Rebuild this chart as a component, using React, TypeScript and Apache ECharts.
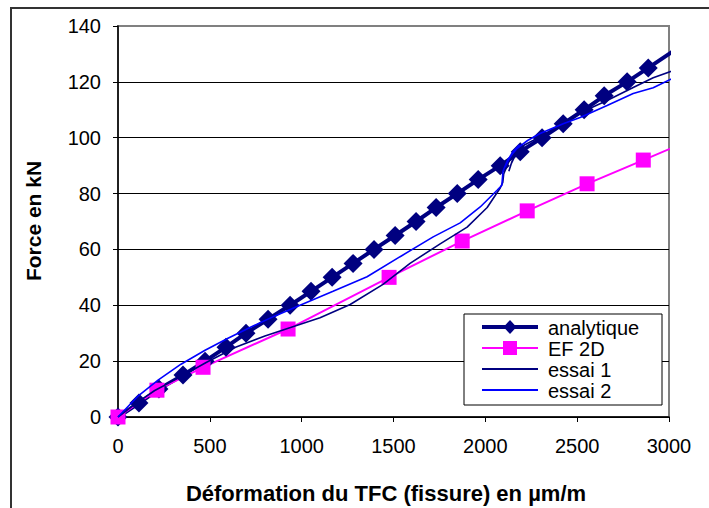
import React, { useEffect, useRef } from "react";
import * as echarts from "echarts";

const xTicks = [0, 500, 1000, 1500, 2000, 2500, 3000];
const yTicks = [0, 20, 40, 60, 80, 100, 120, 140];

const seriesNames = ["analytique", "EF 2D", "essai 1", "essai 2"];

const analytiqueX = [0, 114, 223, 354, 474, 588, 697, 817, 937, 1051, 1166, 1280, 1394, 1509, 1623, 1732, 1847, 1961, 2081, 2190, 2309, 2424, 2538, 2647, 2772, 2887, 3050];
const analytiqueY = [0, 5, 10, 15, 20, 25, 30, 35, 40, 45, 50, 55, 60, 65, 70, 75, 80, 85, 90, 95, 100, 105, 110, 115, 120, 125, 132.2];

const ef2dX = [0, 212, 463, 926, 1476, 1874, 2228, 2554, 2860, 3050];
const ef2dY = [0, 9.6, 17.8, 31.5, 50, 63, 73.8, 83.5, 92, 97.3];

const essai1X = [0, 100, 200, 330, 480, 640, 800, 960, 1100, 1264, 1443, 1590, 1754, 1901, 2010, 2081, 2095, 2100, 2125, 2160, 2185, 2165, 2140, 2128, 2145, 2175, 2215, 2260, 2300, 2424, 2520, 2663, 2805, 2914, 3050];
const essai1Y = [0, 5, 9.5, 14, 19.5, 25, 29, 32.5, 35.5, 40.3, 47.5, 55, 62, 68, 75, 82, 84, 87, 91, 95, 96.5, 94, 90.5, 88, 91.5, 95, 97.5, 99, 100.5, 105, 109, 113.3, 118, 121.5, 124.7];

const essai2X = [0, 109, 218, 343, 474, 599, 724, 855, 991, 1171, 1356, 1536, 1716, 1863, 1972, 2064, 2090, 2096, 2118, 2150, 2185, 2160, 2125, 2108, 2125, 2170, 2230, 2298, 2424, 2516, 2663, 2805, 2914, 3050];
const essai2Y = [0, 7.5, 13.2, 18.9, 23.9, 28.2, 32.2, 36.2, 40, 45, 50.2, 57.4, 64.5, 69.5, 75.2, 81.2, 83, 88, 91.5, 95, 97.5, 95.5, 92, 89.5, 92.5, 96, 99, 101.5, 105, 107.2, 111.5, 115.8, 117.9, 122.2];

const FONT = "'Liberation Sans', Arial, sans-serif";
const NAVY = "#000080";
const MAGENTA = "#FF00FF";
const BLUE = "#0000FF";

function pairs(xs: number[], ys: number[]) {
  return xs.map((x, i) => [x, ys[i]]);
}

export default function App() {
  const ref = useRef<HTMLDivElement>(null);
  useEffect(() => {
    if (!ref.current) return;
    const chart = echarts.init(ref.current, undefined, { renderer: "svg" });
    const anaData = pairs(analytiqueX, analytiqueY).map((p) =>
      p[0] > 3000 ? { value: p, symbol: "none" } : { value: p }
    );
    const efData = pairs(ef2dX, ef2dY).map((p) =>
      p[0] > 3000 ? { value: p, symbol: "none" } : { value: p }
    );

    // legend drawn as graphic
    const lgX = 464, lgY = 314, lgW = 198, lgH = 91;
    const rowY = [327, 348, 369, 390];
    const lineX1 = 482, lineX2 = 538, txtX = 548, midX = 510;
    const legendGraphic: any[] = [
      {
        type: "rect",
        shape: { x: lgX, y: lgY, width: lgW, height: lgH },
        style: { fill: "#fff", stroke: "#000", lineWidth: 1 },
        z: 100,
      },
      { type: "line", shape: { x1: lineX1, y1: rowY[0], x2: lineX2, y2: rowY[0] }, style: { stroke: NAVY, lineWidth: 4 }, z: 101 },
      {
        type: "polygon",
        shape: { points: [[midX, rowY[0] - 7], [midX + 6.5, rowY[0]], [midX, rowY[0] + 7], [midX - 6.5, rowY[0]]] },
        style: { fill: NAVY },
        z: 102,
      },
      { type: "line", shape: { x1: lineX1, y1: rowY[1], x2: lineX2, y2: rowY[1] }, style: { stroke: MAGENTA, lineWidth: 2 }, z: 101 },
      { type: "rect", shape: { x: midX - 7, y: rowY[1] - 7, width: 14, height: 14 }, style: { fill: MAGENTA }, z: 102 },
      { type: "line", shape: { x1: lineX1, y1: rowY[2], x2: lineX2, y2: rowY[2] }, style: { stroke: NAVY, lineWidth: 2 }, z: 101 },
      { type: "line", shape: { x1: lineX1, y1: rowY[3], x2: lineX2, y2: rowY[3] }, style: { stroke: BLUE, lineWidth: 2 }, z: 101 },
      ...seriesNames.map((n, i) => ({
        type: "text",
        x: txtX,
        y: rowY[i] + 1,
        style: { text: n, font: `20px ${FONT}`, fill: "#000", align: "left", verticalAlign: "middle" },
        z: 103,
      })),
    ];

    chart.setOption({
      animation: false,
      backgroundColor: "#ffffff",
      textStyle: { fontFamily: FONT },
      grid: {
        left: 118,
        top: 26,
        right: 40,
        bottom: 91,
        show: true,
        borderColor: "#808080",
        borderWidth: 2,
        backgroundColor: "transparent",
      },
      xAxis: {
        type: "value",
        min: xTicks[0],
        max: xTicks[xTicks.length - 1],
        interval: 500,
        axisLine: { show: true, lineStyle: { color: "#000", width: 1.5 } },
        axisTick: { show: true, inside: false, length: 5, lineStyle: { color: "#000", width: 1 } },
        axisLabel: { color: "#000", fontSize: 20, fontFamily: FONT, margin: 19, formatter: (v: number) => String(v) },
        splitLine: { show: false },
      },
      yAxis: {
        type: "value",
        min: yTicks[0],
        max: yTicks[yTicks.length - 1],
        interval: 20,
        axisLine: { show: true, lineStyle: { color: "#000", width: 1.5 } },
        axisTick: { show: true, inside: false, length: 5, lineStyle: { color: "#000", width: 1 } },
        axisLabel: { color: "#000", fontSize: 20, fontFamily: FONT, margin: 17, formatter: (v: number) => String(v) },
        splitLine: { show: true, showMaxLine: false, lineStyle: { color: "#000", width: 1 } },
      },
      series: [
        {
          name: seriesNames[0],
          type: "line",
          data: anaData,
          clip: false,
          symbol: "diamond",
          symbolSize: 19,
          showAllSymbol: true,
          lineStyle: { color: NAVY, width: 4 },
          itemStyle: { color: NAVY },
          z: 3,
        },
        {
          name: seriesNames[1],
          type: "line",
          data: efData,
          clip: false,
          symbol: "rect",
          symbolSize: 15,
          lineStyle: { color: MAGENTA, width: 2 },
          itemStyle: { color: MAGENTA },
          z: 3,
        },
        {
          name: seriesNames[2],
          type: "line",
          data: pairs(essai1X, essai1Y),
          clip: false,
          symbol: "none",
          lineStyle: { color: NAVY, width: 1.6 },
          itemStyle: { color: NAVY },
          z: 4,
        },
        {
          name: seriesNames[3],
          type: "line",
          data: pairs(essai2X, essai2Y),
          clip: false,
          symbol: "none",
          lineStyle: { color: BLUE, width: 1.6 },
          itemStyle: { color: BLUE },
          z: 4,
        },
      ],
      graphic: [
        {
          type: "rect",
          shape: { x: 11, y: 8, width: 900, height: 700 },
          style: { fill: "none", stroke: "#333", lineWidth: 2 },
          silent: true,
          z: 0,
        },
        {
          type: "text",
          x: 386,
          y: 493,
          style: {
            text: "Déformation du TFC (fissure) en µm/m",
            font: `bold 22px ${FONT}`,
            fill: "#000",
            align: "center",
            verticalAlign: "middle",
          },
        },
        {
          type: "text",
          x: 33,
          y: 221,
          rotation: Math.PI / 2,
          style: {
            text: "Force en kN",
            font: `bold 21px ${FONT}`,
            fill: "#000",
            align: "center",
            verticalAlign: "middle",
          },
        },
        ...legendGraphic,
      ],
    });
    return () => chart.dispose();
  }, []);
  return <div ref={ref} style={{ width: 709, height: 508, position: "absolute", left: 0, top: 0 }} />;
}
